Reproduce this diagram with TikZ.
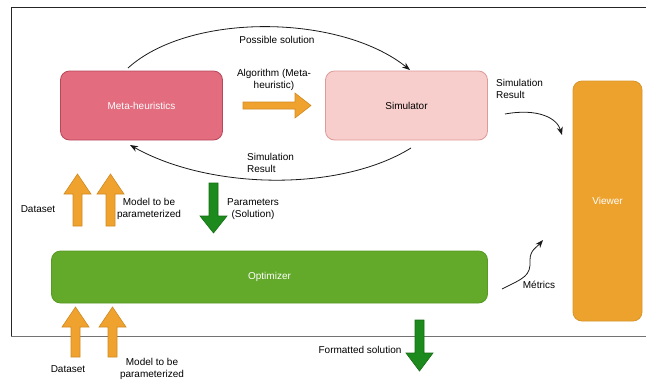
\documentclass[tikz,border=0pt]{standalone}
\usepackage{fontspec}
\setmainfont{Liberation Sans}
\usepackage{tikz}
\usetikzlibrary{positioning,arrows.meta}
\usepackage{xcolor}
\definecolor{metafill}{HTML}{E36C7F}
\definecolor{metaline}{HTML}{B8475A}
\definecolor{simfill}{HTML}{F8CECC}
\definecolor{simline}{HTML}{DC9A98}
\definecolor{viewfill}{HTML}{EDA22D}
\definecolor{viewline}{HTML}{D9952A}
\definecolor{optfill}{HTML}{63A92A}
\definecolor{optline}{HTML}{579A24}
\definecolor{orangefill}{HTML}{EFA22E}
\definecolor{orangeline}{HTML}{D08A22}
\definecolor{greenfill}{HTML}{1C8A1C}
\definecolor{greenline}{HTML}{146E14}
\tikzset{
	box/.style={draw, rounded corners=9pt, line width=0.8pt, inner sep=0pt},
	lbl/.style={font=\fontsize{10}{12}\selectfont, align=center, inner sep=0pt},
	conn/.style={-{Stealth[length=8pt,width=6pt]}, line width=0.8pt, black!90},
	orangearrow/.style={fill=orangefill, draw=orangeline, line width=0.6pt},
	greenarrow/.style={fill=greenfill, draw=greenline, line width=0.6pt},
	pics/blockarrow/.style n args={4}{code={
		\draw[pic actions] (0,-#4) -- (#1-#2,-#4) -- (#1-#2,-#3) -- (#1,0) -- (#1-#2,#3) -- (#1-#2,#4) -- (0,#4) -- cycle;
	}}
}

\begin{document}
\begin{tikzpicture}[x=1pt, y=-1pt]
	\useasboundingbox (0,0) rectangle (646,381);
	
	% frame
	\draw[line width=1pt, black!85] (646,7) -- (11,7) -- (11,336);
	\draw[line width=1pt, black!55] (11,336) -- (646,336);
	
	% boxes
	\node[box, fill=metafill, draw=metaline, minimum width=162pt, minimum height=69pt, text=white, lbl] (meta) at (141.5,105.5) {Meta-heuristics};
	\node[box, fill=simfill, draw=simline, minimum width=162pt, minimum height=69pt, lbl] (sim) at (406.5,105.5) {Simulator};
	\node[box, fill=viewfill, draw=viewline, minimum width=69pt, minimum height=240pt, text=white, lbl] (viewer) at (607.5,201) {Viewer};
	\node[box, fill=optfill, draw=optline, minimum width=436pt, minimum height=52pt, text=white, lbl] (opt) at (269.5,277) {Optimizer};
	
	% free ends of the curved connectors
	\coordinate (possA) at (128,68);
	\coordinate (possB) at (410,70);
	\coordinate (resA) at (411,148);
	\coordinate (resB) at (130,145);
	\coordinate (viewA) at (505,114);
	\coordinate (viewB) at (562,135);
	\coordinate (metA) at (502,289);
	\coordinate (metM) at (530,260);
	\coordinate (metB) at (543,240);
	
	\draw[conn] (possA) .. controls (190,12) and (340,14) .. (possB);
	\draw[conn] (resA) .. controls (340,192) and (210,190) .. (resB);
	\draw[conn] (viewA) .. controls (538,108) and (557,118) .. (viewB);
	\draw[conn] (metA) .. controls (524,278) and (531,276) .. (metM) .. controls (530,250) and (537,247) .. (metB);
	
	% block arrows
	\pic[orangearrow] (algoarrow) at (243,105.5) {blockarrow={68}{16}{12.5}{3.5}};
	\pic[orangearrow, rotate=90] (dataup) at (77.5,226) {blockarrow={52}{20}{13.5}{4.5}};
	\pic[orangearrow, rotate=90] (modelup) at (110.5,226) {blockarrow={52}{20}{13.5}{4.5}};
	\pic[greenarrow, rotate=-90] (paramdown) at (213.5,183) {blockarrow={50}{17}{13.5}{4.5}};
	\pic[orangearrow, rotate=90] (datalow) at (75.5,357) {blockarrow={50}{20}{13.5}{4.5}};
	\pic[orangearrow, rotate=90] (modellow) at (112.5,357) {blockarrow={50}{20}{13.5}{4.5}};
	\pic[greenarrow, rotate=-90] (formatdown) at (419.5,320) {blockarrow={51}{18}{13.5}{4.5}};
	
	% labels
	\node[lbl] (possl) at (277,40) {Possible solution};
	\node[lbl] (algol) at (274,80) {Algorithm (Meta-\\heuristic)};
	\node[lbl, align=left, anchor=west] (resl) at (247,163) {Simulation\\Result};
	\node[lbl, align=left, anchor=west] (viewl) at (496,89) {Simulation\\Result};
	\node[lbl] (datal) at (38,209) {Dataset};
	\node[lbl] (modell) at (149,209) {Model to be\\parameterized};
	\node[lbl] (paraml) at (253,209) {Parameters\\(Solution)};
	\node[lbl] (metl) at (539,285) {Métrics};
	\node[lbl] (datall) at (68,369) {Dataset};
	\node[lbl] (modelll) at (152,369) {Model to be\\parameterized};
	\node[lbl] (forml) at (360,350) {Formatted solution};

\end{tikzpicture}
\end{document}
